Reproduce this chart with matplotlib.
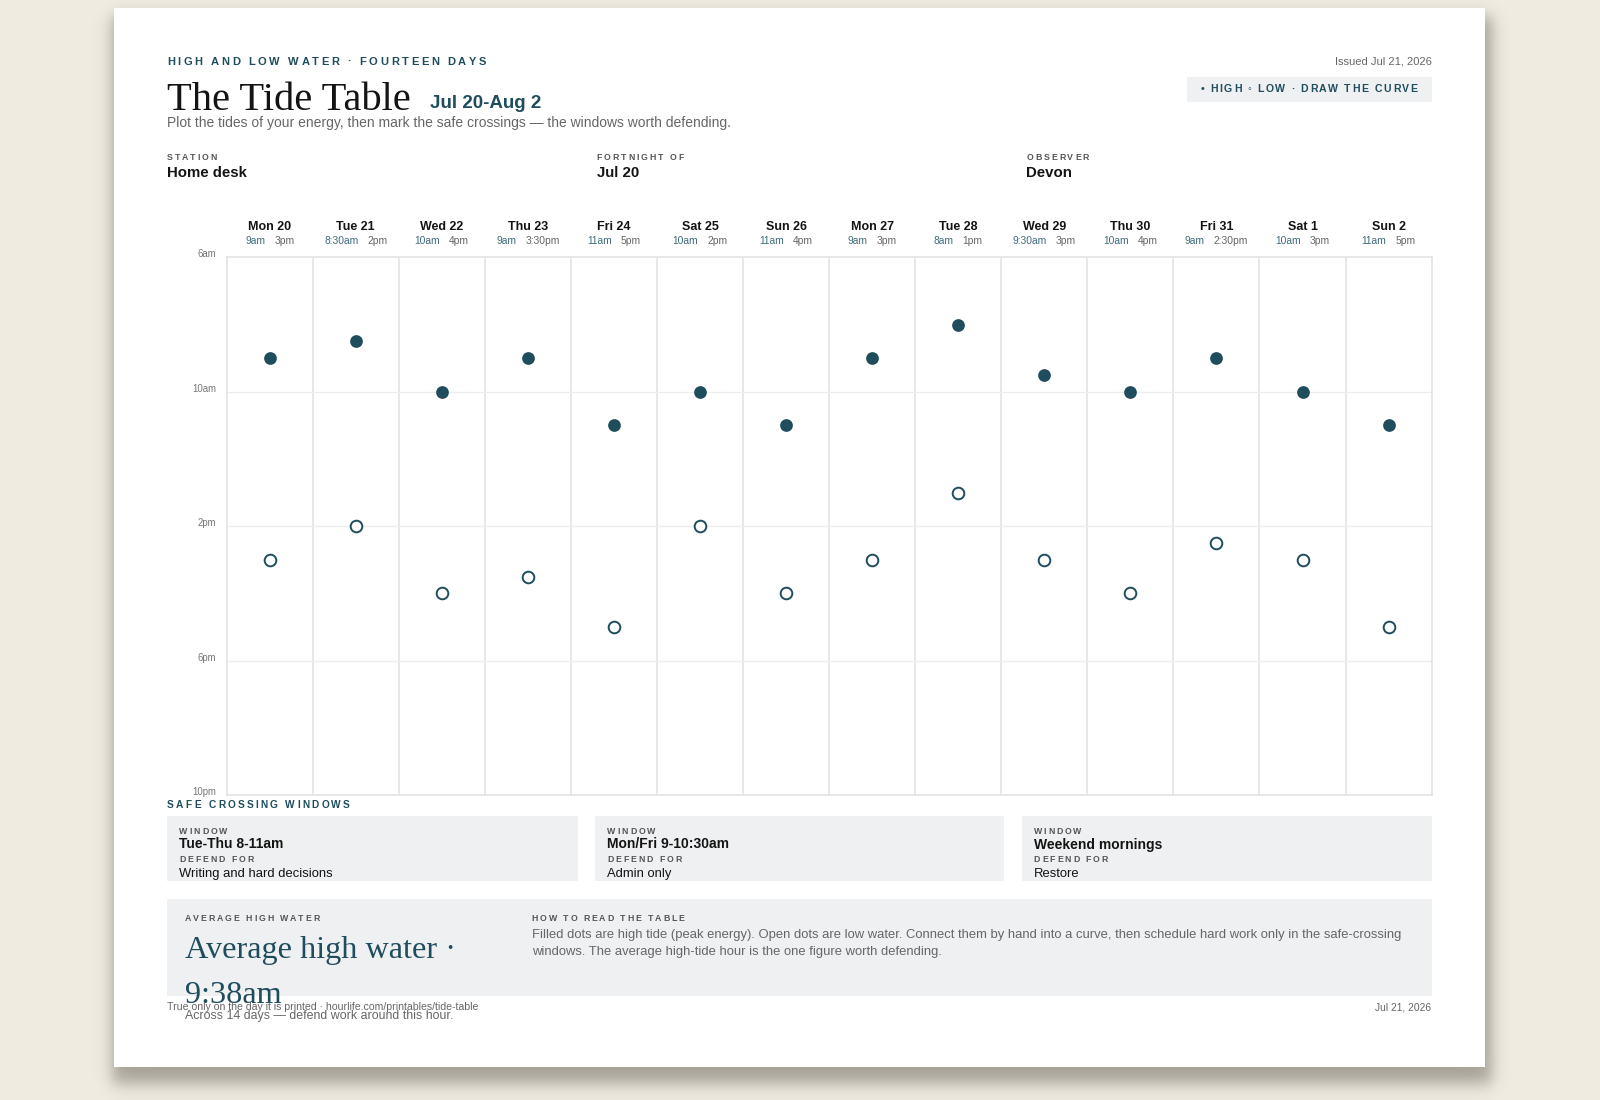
import matplotlib
matplotlib.use('Agg')
import numpy as np
import matplotlib.pyplot as plt
from matplotlib.patches import Rectangle
from matplotlib.font_manager import FontProperties

# ---- data ----
days = ['Mon 20', 'Tue 21', 'Wed 22', 'Thu 23', 'Fri 24', 'Sat 25', 'Sun 26',
        'Mon 27', 'Tue 28', 'Wed 29', 'Thu 30', 'Fri 31', 'Sat 1', 'Sun 2']
high_labels = ['9am', '8:30am', '10am', '9am', '11am', '10am', '11am',
               '9am', '8am', '9:30am', '10am', '9am', '10am', '11am']
low_labels = ['3pm', '2pm', '4pm', '3:30pm', '5pm', '2pm', '4pm',
              '3pm', '1pm', '3pm', '4pm', '2:30pm', '3pm', '5pm']
high_hours = [9, 8.5, 10, 9, 11, 10, 11, 9, 8, 9.5, 10, 9, 10, 11]
low_hours = [15, 14, 16, 15.5, 17, 14, 16, 15, 13, 15, 16, 14.5, 15, 17]
hour_ticks = [6, 10, 14, 18, 22]
hour_labels = ['6am', '10am', '2pm', '6pm', '10pm']

meta_keys = ['STATION', 'FORTNIGHT OF', 'OBSERVER']
meta_vals = ['Home desk', 'Jul 20', 'Devon']
windows = ['Tue-Thu 8-11am', 'Mon/Fri 9-10:30am', 'Weekend mornings']
defend_for = ['Writing and hard decisions', 'Admin only', 'Restore']

# ---- style ----
BG = '#efebe1'
TEAL = '#1f4d5e'
TEAL_L = '#3f6b7b'
INK = '#141414'
GRAY = '#666666'
LABEL = '#555555'
PANEL = '#eff0f1'
GRID = '#dfe1e3'
SANS = ['Liberation Sans', 'DejaVu Sans']
SERIF = ['Liberation Serif', 'DejaVu Serif']

W, H = 1600, 1100
fig = plt.figure(figsize=(16, 11), dpi=100)
fig.patch.set_facecolor(BG)
renderer = fig.canvas.get_renderer()


def fx(x):
    return x / W


def fy(y):
    return 1 - y / H


def txt(x, y, s, size, color=INK, weight='normal', family=SANS, ha='left', va='center', **kw):
    return fig.text(fx(x), fy(y), s, fontsize=size, color=color, fontweight=weight,
                    family=family, ha=ha, va=va, **kw)


def tw(s, size, weight='normal', family=SANS):
    prop = FontProperties(family=family, size=size, weight=weight)
    return renderer.get_text_width_height_descent(s, prop, ismath=False)[0]


def cw(c, size, weight):
    # advance width of one char (works for spaces too)
    return tw('|' + c + '|', size, weight) - tw('||', size, weight)


def tracked(x, y, s, size, tracking, color=LABEL, weight='bold', ha='left'):
    widths = [cw(c, size, weight) for c in s]
    total = sum(widths) + tracking * (len(s) - 1)
    if ha == 'center':
        x -= total / 2
    elif ha == 'right':
        x -= total
    for c, w in zip(s, widths):
        if c != ' ':
            txt(x, y, c, size, color=color, weight=weight)
        x += w + tracking


def rect(x0, y0, x1, y1, color, zorder=-1, **kw):
    fig.patches.append(Rectangle((fx(x0), fy(y1)), (x1 - x0) / W, (y1 - y0) / H,
                                 transform=fig.transFigure, facecolor=color,
                                 edgecolor='none', zorder=zorder, **kw))


# ---- card with soft shadow ----
card = (114, 8, 1485, 1067)
gx = np.arange(W)
gy = np.arange(H)
sx = 0.5 * (np.tanh((gx - card[0] + 2) / 9) - np.tanh((gx - card[2] - 6) / 9))
sy = 0.5 * (np.tanh((gy - card[1] - 8) / 9) - np.tanh((gy - card[3] - 16) / 10))
shadow = np.zeros((H, W, 4))
shadow[..., 0] = 0.25
shadow[..., 1] = 0.23
shadow[..., 2] = 0.18
shadow[..., 3] = 0.42 * np.outer(sy, sx)
fig.figimage(shadow, xo=0, yo=0, origin='upper', zorder=-3)
rect(*card, 'white', zorder=-2)

# ---- header ----
tracked(167, 62, 'HIGH AND LOW WATER · FOURTEEN DAYS', 8, 2.6, color=TEAL)
txt(167, 110, 'The Tide Table', 29.2, color=INK, family=SERIF, va='baseline')
txt(430, 108, 'Jul 20-Aug 2', 13.5, color=TEAL, weight='bold', va='baseline')
txt(167, 123, 'Plot the tides of your energy, then mark the safe crossings \u2014 '
    'the windows worth defending.', 10, color=GRAY)
txt(1431.6, 62, 'Issued Jul 21, 2026', 8, color=GRAY, ha='right')
rect(1187, 77.5, 1431.6, 101.5, PANEL)
tracked(1309, 89.5, '\u2022 HIGH \u25e6 LOW · DRAW THE CURVE', 7.6, 1.6, color=TEAL, ha='center')

for k, (key, val) in enumerate(zip(meta_keys, meta_vals)):
    x0 = 167 + k * 429.7
    tracked(x0, 158, key, 6.3, 1.9)
    txt(x0, 173, val, 10.8, color=INK, weight='bold')

# ---- tide chart ----
ax_l, ax_t, ax_r, ax_b = 226.7, 257.3, 1431.6, 795
ax = fig.add_axes([fx(ax_l), fy(ax_b), (ax_r - ax_l) / W, (ax_b - ax_t) / H])
ax.set_zorder(1)
ax.set_xlim(-0.5, len(days) - 0.5)
ax.set_ylim(hour_ticks[-1], hour_ticks[0])
ax.set_facecolor('white')
for i in range(1, len(days)):
    ax.axvline(i - 0.5, color=GRID, lw=1.1, zorder=1)
for h in hour_ticks[1:-1]:
    ax.axhline(h, color='#ededee', lw=0.9, zorder=1)
for sp in ax.spines.values():
    sp.set_color(GRID)
    sp.set_linewidth(1.1)
ax.set_xticks([])
ax.set_yticks([])

xs = list(range(len(days)))
ax.scatter(xs, high_hours, s=84, color=TEAL, zorder=3, linewidths=0)
ax.scatter(xs, low_hours, s=70, facecolor='white', edgecolor=TEAL, linewidths=1.4, zorder=3)

for h, lab in zip(hour_ticks, hour_labels):
    ax.text(-10.7 / (ax_r - ax_l), h, lab, transform=ax.get_yaxis_transform(),
            ha='right', va='baseline', fontsize=6.9, color='#777777', family=SANS,
            clip_on=False)

fig.canvas.draw()
for i, d in enumerate(days):
    cx = ax.transData.transform((i, 6))[0]
    txt(cx, 226.5, d, 9, color=INK, weight='bold', ha='center')
    wh = tw(high_labels[i], 7.4)
    wl = tw(low_labels[i], 7.4)
    gap = 9
    x0 = cx - (wh + gap + wl) / 2
    txt(x0, 241, high_labels[i], 7.4, color=TEAL_L)
    txt(x0 + wh + gap, 241, low_labels[i], 7.4, color=GRAY)

# ---- safe crossing windows ----
tracked(167, 805, 'SAFE CROSSING WINDOWS', 7.3, 2.3, color=TEAL)
box_x = [(167, 577.5), (595, 1004), (1021.5, 1431.6)]
for (x0, x1), win, dfd in zip(box_x, windows, defend_for):
    rect(x0, 816, x1, 880.5, PANEL)
    tracked(x0 + 12.2, 831, 'WINDOW', 6.3, 1.9)
    txt(x0 + 12.2, 844.5, win, 10, color=INK, weight='bold')
    tracked(x0 + 12.2, 860, 'DEFEND FOR', 6.3, 1.9)
    txt(x0 + 12.2, 874, dfd, 9.4, color=INK)

# ---- average high water ----
avg = sum(high_hours) / len(high_hours)
hh = int(avg)
mm = int((avg - hh) * 60)
avg_label = '%d:%02d%s' % (hh if hh <= 12 else hh - 12, mm, 'am' if hh < 12 else 'pm')

rect(167, 899, 1431.6, 996, PANEL)
tracked(184.7, 918.5, 'AVERAGE HIGH WATER', 6.3, 1.9)
txt(184.7, 958, 'Average high water \u00b7', 23.2, color=TEAL, family=SERIF, va='baseline')
txt(184.7, 1003, avg_label, 23.2, color=TEAL, family=SERIF, va='baseline')
txt(185, 1016.5, 'Across %d days \u2014 defend work around this hour.' % len(days), 8.9, color=GRAY)

tracked(531.6, 918.5, 'HOW TO READ THE TABLE', 6.3, 1.9)
txt(531.6, 935, 'Filled dots are high tide (peak energy). Open dots are low water. Connect them '
    'by hand into a curve, then schedule hard work only in the safe-crossing', 9.4, color=GRAY)
txt(531.6, 952.5, 'windows. The average high-tide hour is the one figure worth defending.',
    9.4, color=GRAY)

# ---- footer ----
txt(167, 1007.5, 'True only on the day it is printed \u00b7 hourlife.com/printables/tide-table',
    7.6, color=GRAY)
txt(1431.6, 1007.5, 'Jul 21, 2026', 7.4, color=GRAY, ha='right')

fig.savefig('out.png', dpi=100, facecolor=BG)
